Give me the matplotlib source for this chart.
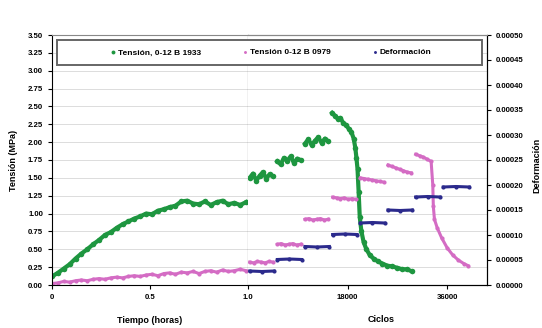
import numpy as np
import matplotlib.pyplot as plt
from matplotlib.patches import Rectangle
from matplotlib.ticker import MultipleLocator, FormatStrFormatter

plt.rcParams['font.family'] = ['Liberation Sans', 'DejaVu Sans']
plt.rcParams['font.weight'] = 'bold'

nan = np.nan

# --- static stage (time in hours) ---
horas = [0.00, 0.03, 0.06, 0.09, 0.12, 0.15, 0.18, 0.21, 0.24, 0.27, 0.30, 0.33,
         0.36, 0.39, 0.42, 0.45, 0.48, 0.51, 0.54, 0.57, 0.60, 0.63, 0.66, 0.69,
         0.72, 0.75, 0.78, 0.81, 0.84, 0.87, 0.90, 0.93, 0.96, 0.99]
tension_1933_h = [0.12, 0.17, 0.23, 0.29, 0.37, 0.44, 0.50, 0.57, 0.63, 0.70, 0.74, 0.80,
                  0.85, 0.89, 0.93, 0.96, 1.00, 0.99, 1.04, 1.06, 1.09, 1.11, 1.17, 1.18,
                  1.14, 1.13, 1.17, 1.12, 1.16, 1.18, 1.13, 1.15, 1.12, 1.16]
tension_0979_h = [0.02, 0.03, 0.05, 0.04, 0.06, 0.07, 0.06, 0.08, 0.09, 0.08, 0.10, 0.11,
                  0.10, 0.12, 0.13, 0.12, 0.14, 0.15, 0.13, 0.16, 0.17, 0.15, 0.18, 0.17,
                  0.19, 0.16, 0.19, 0.20, 0.18, 0.21, 0.19, 0.20, 0.22, 0.20]

# --- cyclic stage (cycles) ---
ciclos_1933 = [300, 900, 1500, 2100, 2700, 3300, 3900, 4500, nan,
               5300, 5900, 6500, 7100, 7700, 8300, 8900, 9500, nan,
               10300, 10900, 11500, 12100, 12700, 13300, 13900, 14500, nan,
               15200, 15700, 16200, 16700, 17200, 17700, 18200, 18700, 19100, 19400,
               19600, 19800, 20000, 20200, 20500, 20900, 21400, 22000, 22700, 23500,
               24300, 25200, 26100, 27000, 27900, 28800, 29600]
tension_1933_c = [1.50, 1.56, 1.46, 1.53, 1.58, 1.49, 1.55, 1.52, nan,
                  1.73, 1.69, 1.78, 1.74, 1.80, 1.71, 1.77, 1.75, nan,
                  1.98, 2.04, 1.96, 2.02, 2.07, 1.99, 2.05, 2.01, nan,
                  2.41, 2.37, 2.33, 2.34, 2.27, 2.24, 2.19, 2.14, 2.05, 1.92,
                  1.78, 1.62, 1.30, 0.95, 0.75, 0.60, 0.50, 0.42, 0.37, 0.33,
                  0.30, 0.27, 0.26, 0.24, 0.22, 0.22, 0.19]

ciclos_0979 = [300, 1000, 1700, 2400, 3100, 3800, 4500, nan,
               5300, 6000, 6700, 7400, 8100, 8800, 9500, nan,
               10300, 11000, 11700, 12400, 13100, 13800, 14500, nan,
               15300, 16000, 16700, 17400, 18100, 18800, 19500, nan,
               20300, 21000, 21700, 22400, 23100, 23800, 24500, nan,
               25300, 26000, 26700, 27400, 28100, 28800, 29500, nan,
               30300, 31000, 31700, 32400, 33100, 33400, 33500, 33700, 34200,
               35000, 36000, 37000, 38000, 39000, 39800]
tension_0979_c = [0.32, 0.31, 0.33, 0.32, 0.31, 0.33, 0.32, nan,
                  0.57, 0.58, 0.56, 0.57, 0.58, 0.56, 0.57, nan,
                  0.92, 0.93, 0.91, 0.92, 0.93, 0.91, 0.92, nan,
                  1.23, 1.22, 1.21, 1.22, 1.20, 1.21, 1.20, nan,
                  1.50, 1.49, 1.48, 1.47, 1.46, 1.45, 1.44, nan,
                  1.68, 1.66, 1.64, 1.62, 1.60, 1.58, 1.57, nan,
                  1.83, 1.81, 1.79, 1.76, 1.73, 1.40, 1.10, 0.92, 0.80,
                  0.66, 0.52, 0.42, 0.35, 0.30, 0.27]

ciclos_def = [300, 2500, 4700, nan, 5300, 7500, 9700, nan, 10300, 12500, 14700, nan,
              15300, 17500, 19700, nan, 20300, 22500, 24700, nan, 25300, 27500, 29700, nan,
              30300, 32500, 34700, nan, 35300, 37600, 40000]
deformacion = [0.000028, 0.000027, 0.000028, nan, 0.000051, 0.000052, 0.000051, nan,
               0.000077, 0.000076, 0.000077, nan, 0.000101, 0.000102, 0.000101, nan,
               0.000124, 0.000125, 0.000124, nan, 0.000150, 0.000149, 0.000150, nan,
               0.000176, 0.000177, 0.000176, nan, 0.000196, 0.000197, 0.000196]

verde = '#1e9640'
rosa = '#d46cc4'
azul = '#2b2a8c'

fig = plt.figure(figsize=(5.42, 3.28), dpi=100)
W, H = 542, 328
bottom, height = 43 / H, 250 / H
ax_h = fig.add_axes([52 / W, bottom, 196 / W, height])
ax_c = fig.add_axes([248 / W, bottom, 239 / W, height])
ax_d = ax_c.twinx()

thin = dict(lw=2.2, marker='o', ms=3, mew=0)
thick = dict(lw=3.0, marker='o', ms=4, mew=0)
ax_h.plot(horas, tension_1933_h, color=verde, **thick)
ax_h.plot(horas, tension_0979_h, color=rosa, **thin)
l1, = ax_c.plot(ciclos_1933, tension_1933_c, color=verde, **thick)
l2, = ax_c.plot(ciclos_0979, tension_0979_c, color=rosa, **thin)
l3, = ax_d.plot(ciclos_def, deformacion, color=azul, **thin)

for ax in (ax_h, ax_c):
    ax.set_ylim(0, 3.5)
    ax.yaxis.set_major_locator(MultipleLocator(0.25))
    ax.grid(axis='y', color='#dcdcdc', lw=0.7)
    ax.set_axisbelow(True)
    ax.spines['top'].set_color('#888888')
    ax.tick_params(labelsize=5.6, length=3, width=0.8, direction='out')

ax_h.set_xlim(0, 1.0)
ax_h.set_xticks([0, 0.5, 1.0])
ax_h.set_xticklabels(['0', '0.5', '1.0'])
ax_h.yaxis.set_major_formatter(FormatStrFormatter('%.2f'))
ax_h.spines['right'].set_color('black')
ax_h.set_ylabel('Tensión (MPa)', fontsize=6.5, fontweight='bold')
ax_h.yaxis.set_label_coords(-0.175, 0.5)
ax_h.set_xlabel('Tiempo (horas)', fontsize=6.5, fontweight='bold')
ax_h.xaxis.set_label_coords(0.5, -0.125)

ax_c.set_xlim(0, 43200)
ax_c.set_xticks([18000, 36000])
ax_c.tick_params(axis='y', left=False, labelleft=False)
ax_c.spines['left'].set_visible(False)
ax_c.set_xlabel('Ciclos', fontsize=6.5, fontweight='bold')
ax_c.xaxis.set_label_coords(0.556, -0.12)

ax_d.set_ylim(0, 0.0005)
ax_d.yaxis.set_major_locator(MultipleLocator(0.00005))
ax_d.yaxis.set_major_formatter(FormatStrFormatter('%.5f'))
ax_d.tick_params(labelsize=5.6, length=3, width=0.8)
ax_d.spines['top'].set_color('#888888')
ax_d.spines['left'].set_visible(False)
ax_d.set_ylabel('Deformación', fontsize=6.5, fontweight='bold')
ax_d.yaxis.set_label_coords(1.19, 0.48)

# legend box across both panels
box = Rectangle((57 / W, (H - 65) / H), 425 / W, 25 / H, transform=fig.transFigure,
                facecolor='white', edgecolor='#666666', lw=1.4, zorder=5)
fig.add_artist(box)
leg = fig.legend([l1, l2, l3],
                 ['Tensión, 0-12 B 1933', 'Tensión 0-12 B 0979', 'Deformación'],
                 loc='center', bbox_to_anchor=(271 / W, 1 - 52.5 / H), ncol=3,
                 frameon=False, fontsize=6, handlelength=0.6, handletextpad=0.3,
                 columnspacing=5.0, markerscale=0.7)
for h in leg.legend_handles:
    h.set_linestyle('none')
leg.set_zorder(6)

fig.savefig('out.png', dpi=100)
